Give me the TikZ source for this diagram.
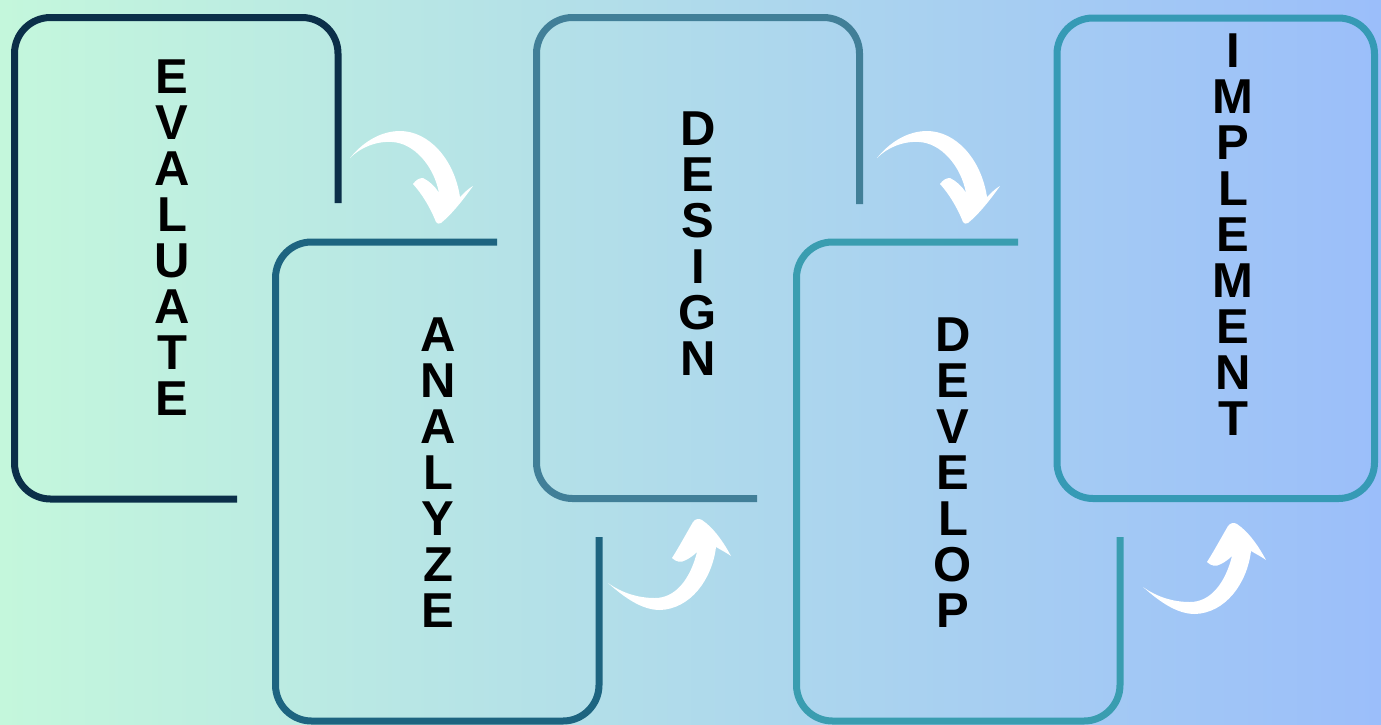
\documentclass[tikz,border=0pt]{standalone}
\usepackage{fontspec}
\setmainfont{Liberation Sans}
\definecolor{bgl}{HTML}{C4F7DC}
\definecolor{bgm}{HTML}{B3DEE9}
\definecolor{bgr}{HTML}{9BBEFA}
\definecolor{c1}{HTML}{0B2F49}
\definecolor{c2}{HTML}{1D6480}
\definecolor{c3}{HTML}{417F98}
\definecolor{c4}{HTML}{3A9DB0}
\definecolor{c5}{HTML}{369AB5}
\begin{document}
\begin{tikzpicture}[x=1pt,y=-1pt,
  boxline/.style={line width=7pt, rounded corners=36pt},
  lbl/.style={font=\fontsize{49}{46}\selectfont\bfseries, align=center, inner sep=0pt, text=black},
  pics/arrowdn/.style={code={
    \fill[white] (350,158) .. controls (362,143) and (380,131) .. (400,131)
      .. controls (428,131) and (454,158) .. (460,197)
      .. controls (464,193) and (469,188) .. (473,186)
      .. controls (463,200) and (452,214) .. (441,223)
      .. controls (439,224) and (437,224) .. (436,222)
      .. controls (430,207) and (422,194) .. (413,184)
      .. controls (416,180) and (419,178) .. (423,178)
      .. controls (429,181) and (435,186) .. (439,193)
      .. controls (434,166) and (414,143) .. (392,142)
      .. controls (375,141) and (360,148) .. (350,158) -- cycle;
  }},
  pics/arrowup/.style={code={
    \fill[white] (608,583) .. controls (625,598) and (642,610) .. (660,610)
      .. controls (690,609) and (712,580) .. (716,547)
      .. controls (721,550) and (727,553) .. (731,556)
      .. controls (724,543) and (714,528) .. (702,520)
      .. controls (699,518) and (695,519) .. (693,522)
      .. controls (686,534) and (679,547) .. (672,558)
      .. controls (676,562) and (681,563) .. (686,560)
      .. controls (690,558) and (694,555) .. (697,552)
      .. controls (690,580) and (675,598) .. (655,598)
      .. controls (638,598) and (622,593) .. (608,583) -- cycle;
  }}]
\useasboundingbox (0,0) rectangle (1381,724);
\fill[left color=bgl, middle color=bgm, right color=bgr] (0,0) rectangle (1381,724);

% boxes
\draw[boxline, c1] (338,203) -- (338,17.5) -- (14.5,17.5) -- (14.5,499) -- (237,499);
\draw[boxline, c2] (497,242) -- (275.5,242) -- (275.5,721) -- (599,721) -- (599,537);
\draw[boxline, c3] (859.5,204) -- (859.5,17.5) -- (536.5,17.5) -- (536.5,498.5) -- (757,498.5);
\draw[boxline, c4] (1018,242) -- (796.5,242) -- (796.5,721) -- (1120,721) -- (1120,537);
\draw[boxline, c5] (1057,18) rectangle (1374.5,498.5);

% labels
\node[lbl] (t1) at (172,238) {E\\V\\A\\L\\U\\A\\T\\E};
\node[lbl] (t2) at (438,472.5) {A\\N\\A\\L\\Y\\Z\\E};
\node[lbl] (t3) at (698,244) {D\\E\\S\\I\\G\\N};
\node[lbl] (t4) at (953,472.5) {D\\E\\V\\E\\L\\O\\P};
\node[lbl] (t5) at (1233,235) {I\\M\\P\\L\\E\\M\\E\\N\\T};

% arrows
\pic at (0,0) {arrowdn};
\pic at (527,0) {arrowdn};
\pic at (0,0) {arrowup};
\pic at (535,4) {arrowup};
\end{tikzpicture}
\end{document}
